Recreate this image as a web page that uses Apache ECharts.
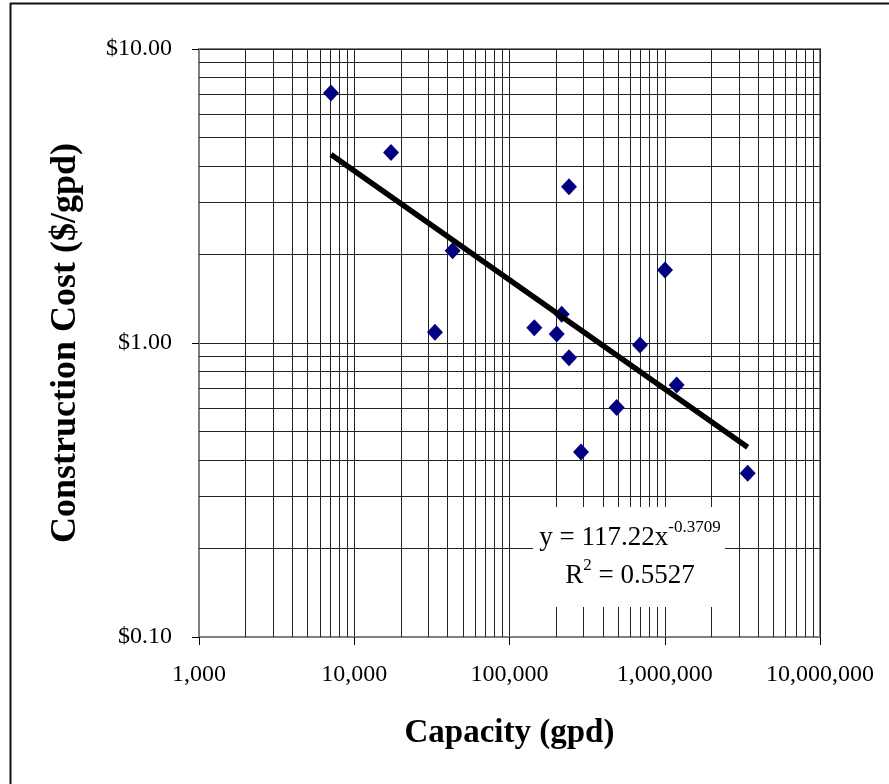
<!DOCTYPE html>
<html>
<head>
<meta charset="utf-8">
<script src="https://cdn.jsdelivr.net/npm/echarts@6/dist/echarts.min.js"></script>
<style>
html,body{margin:0;padding:0;background:#fff;}
#chart{width:889px;height:784px;}
</style>
</head>
<body>
<div id="chart"></div>
<script>
// Data
var capacity = [7080, 17250, 43000, 33100, 241700, 1003700, 216800, 144500, 201400, 692900, 241700, 1193000, 490000, 288800, 3422000];
var cost     = [7.08, 4.45, 2.06, 1.087, 3.40, 1.77, 1.252, 1.127, 1.073, 0.984, 0.891, 0.720, 0.604, 0.426, 0.3605];
// Power trend line end points (y = 117.22x^-0.3709)
var trendX = [7080, 3422000];
var trendY = [4.38, 0.442];
var xTicks = ['1,000', '10,000', '100,000', '1,000,000', '10,000,000'];
var yTicks = ['$0.10', '$1.00', '$10.00'];
var eqText = 'y = 117.22x';
var eqExp = '-0.3709';
var r2Text = '0.5527';

// minor grid positions (2..9 within each decade)
var xMinor = [];
[1000, 10000, 100000, 1000000].forEach(function (d) { for (var k = 2; k <= 9; k++) xMinor.push(d * k); });
var yMinor = [];
[0.1, 1].forEach(function (d) { for (var k = 2; k <= 9; k++) yMinor.push(+(d * k).toFixed(2)); });

var pts = capacity.map(function (c, i) { return [c, cost[i]]; });
var trend = trendX.map(function (x, i) { return [x, trendY[i]]; });

var markData = xMinor.map(function (v) { return { xAxis: v }; })
  .concat(yMinor.map(function (v) { return { yAxis: v }; }));

var font = 'Liberation Serif';
var chart = echarts.init(document.getElementById('chart'), null, { renderer: 'canvas' });
chart.setOption({
  animation: false,
  backgroundColor: '#fff',
  grid: { left: 199, top: 49, right: 69, bottom: 147, show: true, borderColor: '#808080', borderWidth: 2, backgroundColor: 'transparent' },
  xAxis: {
    type: 'log', logBase: 10, min: 1000, max: 10000000,
    name: 'Capacity (gpd)', nameLocation: 'middle', nameGap: 80,
    nameTextStyle: { fontFamily: font, fontWeight: 'bold', fontSize: 33, color: '#000' },
    axisLine: { lineStyle: { color: '#808080', width: 2 } },
    axisTick: { show: true, inside: false, length: 8, lineStyle: { color: '#000', width: 1 } },
    axisLabel: {
      fontFamily: font, fontSize: 24, color: '#000', margin: 26,
      formatter: function (v) { var e = Math.round(Math.log10(v)) - 3; return xTicks[e] || ''; }
    },
    splitLine: { show: true, lineStyle: { color: '#222', width: 1 } }
  },
  yAxis: {
    type: 'log', logBase: 10, min: 0.1, max: 10,
    name: 'Construction Cost ($/gpd)', nameLocation: 'middle', nameGap: 115, nameRotate: 90,
    nameTextStyle: { fontFamily: font, fontWeight: 'bold', fontSize: 36, color: '#000' },
    axisLine: { lineStyle: { color: '#808080', width: 2 } },
    axisTick: { show: true, inside: false, length: 7, lineStyle: { color: '#000', width: 1 } },
    axisLabel: {
      fontFamily: font, fontSize: 24, color: '#000', margin: 27,
      formatter: function (v) { var e = Math.round(Math.log10(v)) + 1; return yTicks[e] || ''; }
    },
    splitLine: { show: true, lineStyle: { color: '#222', width: 1 } }
  },
  series: [
    {
      type: 'scatter', data: pts, symbol: 'diamond', symbolSize: [16, 17],
      itemStyle: { color: '#000080', opacity: 1 }, z: 5,
      markLine: {
        silent: true, symbol: ['none', 'none'], label: { show: false },
        lineStyle: { color: '#222', width: 1, type: 'solid' },
        emphasis: { disabled: true },
        data: markData, z: 1
      }
    },
    {
      type: 'line', data: trend, showSymbol: false, symbol: 'none',
      lineStyle: { color: '#000', width: 5.5 }, z: 6
    }
  ],
  graphic: [
    { type: 'rect', z: 100, shape: { x: 533, y: 507, width: 192, height: 100 }, style: { fill: '#fff' } },
    {
      type: 'text', z: 101, x: 630, y: 557,
      style: {
        text: '{n|' + eqText + '}{s|' + eqExp + '}\n{n|R}{s|2}{n| = ' + r2Text + '}',
        align: 'center', verticalAlign: 'middle',
        rich: {
          n: { fontFamily: font, fontSize: 27, lineHeight: 38, fill: '#000', verticalAlign: 'middle' },
          s: { fontFamily: font, fontSize: 17, lineHeight: 26, fill: '#000', verticalAlign: 'top' }
        }
      }
    },
    { type: 'line', z: 100, shape: { x1: 10, y1: 3.5, x2: 889, y2: 3.5 }, style: { stroke: '#111', lineWidth: 2 } },
    { type: 'line', z: 100, shape: { x1: 10.5, y1: 3, x2: 10.5, y2: 784 }, style: { stroke: '#111', lineWidth: 2 } }
  ]
});
</script>
</body>
</html>
